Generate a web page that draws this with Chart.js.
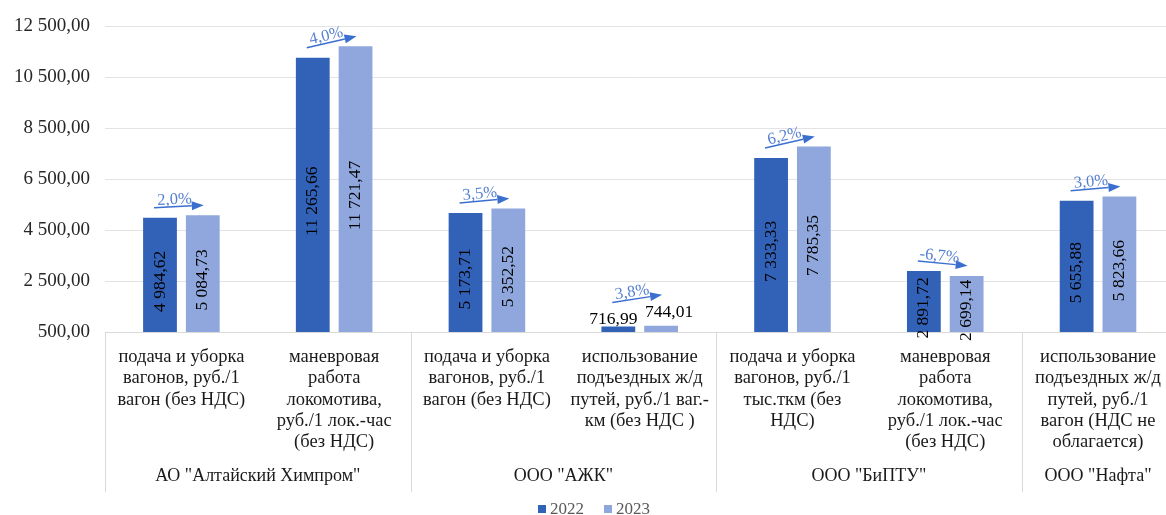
<!DOCTYPE html>
<html>
<head>
<meta charset="utf-8">
<script src="https://cdn.jsdelivr.net/npm/chart.js@4"></script>
<style>
  html, body { margin: 0; padding: 0; overflow: hidden; background: #fff; }
  #wrap { width: 1176px; height: 515px; }
</style>
</head>
<body>
<div id="wrap"><canvas id="chart"></canvas></div>
<script>
// данные
const years = ['2022', '2023'];
const categories = [
  ['подача и уборка', 'вагонов, руб./1', 'вагон (без НДС)'],
  ['маневровая', 'работа', 'локомотива,', 'руб./1 лок.-час', '(без НДС)'],
  ['подача и уборка', 'вагонов, руб./1', 'вагон (без НДС)'],
  ['использование', 'подъездных ж/д', 'путей, руб./1 ваг.-', 'км (без НДС )'],
  ['подача и уборка', 'вагонов, руб./1', 'тыс.ткм (без', 'НДС)'],
  ['маневровая', 'работа', 'локомотива,', 'руб./1 лок.-час', '(без НДС)'],
  ['использование', 'подъездных ж/д', 'путей, руб./1', 'вагон (НДС не', 'облагается)']
];
const groups = ['АО "Алтайский Химпром"', 'ООО "АЖК"', 'ООО "БиПТУ"', 'ООО "Нафта"'];
const groupSizes = [2, 2, 2, 1];
const values2022 = [4984.62, 11265.66, 5173.71, 716.99, 7333.33, 2891.72, 5655.88];
const values2023 = [5084.73, 11721.47, 5352.52, 744.01, 7785.35, 2699.14, 5823.66];
const changes = ['2,0%', '4,0%', '3,5%', '3,8%', '6,2%', '-6,7%', '3,0%'];
const yMin = 500, yMax = 12500, yStep = 2000;

const SERIF = "'Liberation Serif', 'Times New Roman', serif";
const colors = ['#3262b8', '#8fa7dd'];

function fmt(v) {
  const [i, d] = v.toFixed(2).split('.');
  return i.replace(/\B(?=(\d{3})+(?!\d))/g, ' ') + ',' + d;
}

function drawArrow(ctx, x1, y1, x2, y2) {
  const a = Math.atan2(y2 - y1, x2 - x1);
  const L = 12, W = 4.5;
  const bx = x2 - L * Math.cos(a), by = y2 - L * Math.sin(a);
  ctx.beginPath();
  ctx.moveTo(x1, y1);
  ctx.lineTo(bx, by);
  ctx.stroke();
  ctx.beginPath();
  ctx.moveTo(x2, y2);
  ctx.lineTo(bx + W * Math.sin(a), by - W * Math.cos(a));
  ctx.lineTo(bx - W * Math.sin(a), by + W * Math.cos(a));
  ctx.closePath();
  ctx.fill();
}

const extras = {
  id: 'extras',
  afterDatasetsDraw(chart) {
    const ctx = chart.ctx;
    const tops = [[], []];
    ctx.save();
    ctx.font = '17.5px ' + SERIF;
    ctx.fillStyle = '#000';
    chart.data.datasets.forEach((ds, di) => {
      chart.getDatasetMeta(di).data.forEach((bar, i) => {
        const h = bar.base - bar.y;
        const txt = fmt(ds.data[i]);
        const w = ctx.measureText(txt).width;
        if (h >= 30) {
          const cy = (bar.y + bar.base) / 2;
          ctx.save();
          ctx.translate(bar.x, cy);
          ctx.rotate(-Math.PI / 2);
          ctx.textAlign = 'center';
          ctx.textBaseline = 'middle';
          ctx.fillText(txt, 0, 0);
          ctx.restore();
          tops[di][i] = Math.min(bar.y, cy - w / 2 - 4);
        } else {
          const dx = di === 0 ? -5 : 8;
          const base = bar.y - (di === 0 ? 2 : 9);
          ctx.textAlign = 'center';
          ctx.textBaseline = 'alphabetic';
          ctx.fillText(txt, bar.x + dx, base);
          tops[di][i] = base - 12;
        }
      });
    });
    // стрелки с процентом изменения
    const m0 = chart.getDatasetMeta(0).data, m1 = chart.getDatasetMeta(1).data;
    ctx.strokeStyle = '#3b6fcf';
    ctx.lineWidth = 1.5;
    changes.forEach((c, i) => {
      const x1 = m0[i].x - 6, y1 = tops[0][i] - 10;
      const x2 = m1[i].x + 1, y2 = tops[1][i] - 10;
      ctx.fillStyle = '#3b6fcf';
      drawArrow(ctx, x1, y1, x2, y2);
      const a = Math.atan2(y2 - y1, x2 - x1);
      const tx = (x1 + x2) / 2 - 4 * Math.cos(a) + 7 * Math.sin(a);
      const ty = (y1 + y2) / 2 - 4 * Math.sin(a) - 7 * Math.cos(a);
      ctx.save();
      ctx.translate(tx, ty);
      ctx.rotate(a);
      ctx.font = '16.5px ' + SERIF;
      ctx.fillStyle = '#5580d0';
      ctx.textAlign = 'center';
      ctx.textBaseline = 'middle';
      ctx.fillText(c, 0, 0);
      ctx.restore();
    });
    ctx.restore();
  },
  afterDraw(chart) {
    const ctx = chart.ctx;
    const x = chart.scales.x;
    const area = chart.chartArea;
    ctx.save();
    // разделители групп и названия организаций
    ctx.strokeStyle = '#d9d9d9';
    ctx.lineWidth = 1;
    ctx.font = '18px ' + SERIF;
    ctx.fillStyle = '#1a1a1a';
    ctx.textAlign = 'center';
    ctx.textBaseline = 'middle';
    let start = 0;
    groups.forEach((g, gi) => {
      const end = start + groupSizes[gi] - 1;
      const left = start === 0 ? area.left
        : (x.getPixelForValue(start - 1) + x.getPixelForValue(start)) / 2;
      ctx.beginPath();
      ctx.moveTo(Math.round(left) + 0.5, area.bottom);
      ctx.lineTo(Math.round(left) + 0.5, 492);
      ctx.stroke();
      const cx = (x.getPixelForValue(start) + x.getPixelForValue(end)) / 2;
      ctx.fillText(g, cx, 476);
      start = end + 1;
    });
    // легенда
    ctx.font = '17px ' + SERIF;
    ctx.textAlign = 'left';
    const box = 8, gap = 4, spacing = 20;
    const widths = years.map(t => box + gap + ctx.measureText(t).width);
    const total = widths.reduce((s, w) => s + w, 0) + spacing;
    let lx = chart.width / 2 + 6 - total / 2;
    const ly = 509;
    years.forEach((t, i) => {
      ctx.fillStyle = colors[i];
      ctx.fillRect(lx, ly - box / 2, box, box);
      ctx.fillStyle = '#595959';
      ctx.fillText(t, lx + box + gap, ly + 1);
      lx += widths[i] + spacing;
    });
    ctx.restore();
  }
};

new Chart(document.getElementById('chart'), {
  type: 'bar',
  data: {
    labels: categories,
    datasets: [
      { label: years[0], data: values2022, backgroundColor: colors[0] },
      { label: years[1], data: values2023, backgroundColor: colors[1] }
    ]
  },
  options: {
    responsive: true,
    maintainAspectRatio: false,
    animation: false,
    layout: { padding: { top: 20, left: 0, right: 0, bottom: 0 } },
    datasets: { bar: { categoryPercentage: 0.56, barPercentage: 0.79 } },
    plugins: {
      legend: { display: false },
      tooltip: { enabled: false }
    },
    scales: {
      x: {
        grid: { display: false, drawTicks: false },
        border: { color: '#d9d9d9' },
        ticks: {
          autoSkip: false, maxRotation: 0, minRotation: 0, padding: 15,
          color: '#1a1a1a',
          font: { family: SERIF, size: 18.5, lineHeight: 1.14 }
        },
        afterFit(scale) { scale.height = 183; }
      },
      y: {
        min: yMin, max: yMax,
        grid: { color: '#e3e3e3', drawTicks: false },
        border: { display: false },
        ticks: {
          stepSize: yStep, padding: 15, color: '#262626',
          font: { family: SERIF, size: 19 },
          callback: v => fmt(v)
        },
        afterFit(scale) { scale.width = 105; }
      }
    }
  },
  plugins: [extras]
});
</script>
</body>
</html>
